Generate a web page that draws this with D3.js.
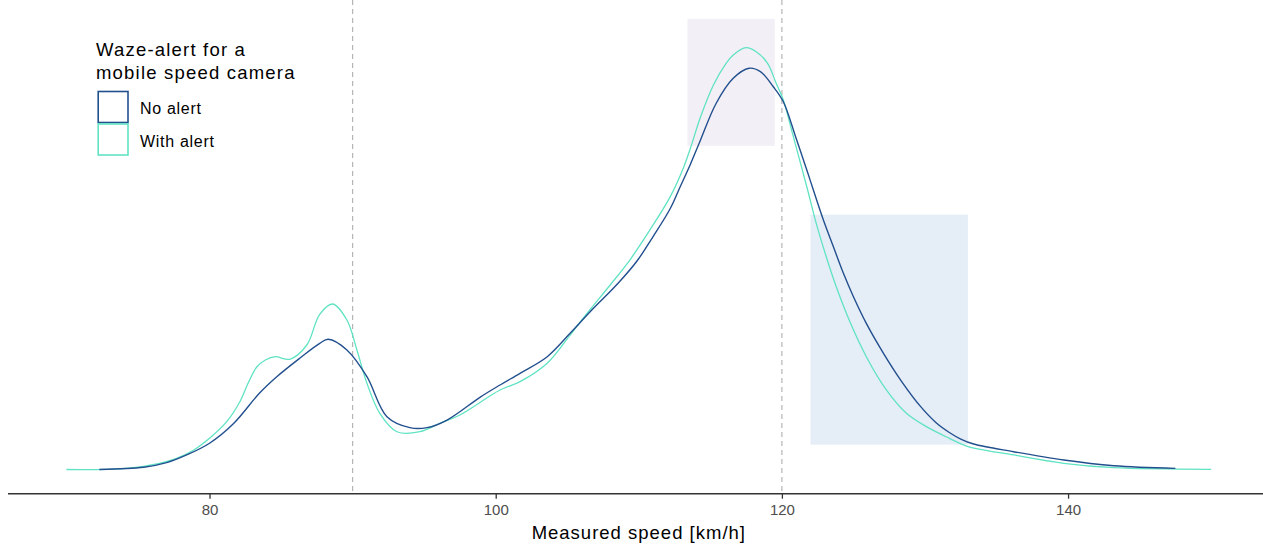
<!DOCTYPE html>
<html>
<head>
<meta charset="utf-8">
<script src="https://cdn.jsdelivr.net/npm/d3@7"></script>
<style>
  html, body { margin: 0; padding: 0; background: #ffffff; }
  svg { display: block; }
  text { font-family: "Liberation Sans", Arial, sans-serif; }
</style>
</head>
<body>
<svg id="chart" width="1263" height="548"></svg>
<script>
// ---------------- data ----------------
const speedWithAlert = [70.0, 74.2, 76.5, 77.7, 78.9, 80.0, 81.2, 82.1, 82.7, 83.3, 83.9, 84.6, 85.6, 86.8, 87.7, 88.6, 89.6, 90.3, 91.0, 91.9, 93.1, 94.7, 96.1, 97.5, 100.3, 101.7, 103.6, 105.2, 106.6, 108.0, 109.4, 110.8, 112.2, 113.1, 113.6, 114.3, 115.2, 116.1, 116.6, 117.5, 118.2, 119.0, 119.6, 120.1, 120.8, 121.8, 122.4, 123.1, 123.8, 124.8, 125.9, 127.3, 128.7, 130.1, 131.7, 132.9, 136.2, 139.7, 143.2, 150.0];
const densityWithAlert = [0, 0.00014, 0.00075, 0.00135, 0.00235, 0.00376, 0.00576, 0.00810, 0.01042, 0.01235, 0.01319, 0.01359, 0.01328, 0.01500, 0.01870, 0.01994, 0.01801, 0.01440, 0.01039, 0.00677, 0.00455, 0.00455, 0.00557, 0.00657, 0.00958, 0.01058, 0.01280, 0.01620, 0.01928, 0.02223, 0.02530, 0.02892, 0.03287, 0.03627, 0.03867, 0.04241, 0.04627, 0.04892, 0.04994, 0.05082, 0.05034, 0.04894, 0.04653, 0.04452, 0.04010, 0.03367, 0.02966, 0.02564, 0.02202, 0.01761, 0.01359, 0.00958, 0.00677, 0.00516, 0.00376, 0.00283, 0.00175, 0.00075, 0.00022, 0.00002];

const speedNoAlert = [72.3, 75.4, 77.0, 78.4, 80.0, 81.7, 83.5, 84.7, 86.3, 87.7, 88.3, 89.6, 91.0, 92.4, 94.0, 95.2, 96.6, 98.9, 100.3, 101.7, 103.6, 105.2, 106.6, 108.6, 109.9, 111.0, 112.2, 112.9, 113.6, 114.3, 115.4, 116.6, 117.7, 118.5, 119.4, 120.1, 121.0, 121.8, 122.2, 122.9, 123.6, 124.3, 125.0, 125.9, 127.1, 128.3, 129.7, 130.8, 131.7, 132.5, 133.4, 136.2, 139.7, 143.2, 147.5];
const densityNoAlert = [0, 0.00027, 0.00082, 0.00175, 0.00316, 0.00557, 0.00922, 0.01118, 0.01340, 0.01520, 0.01569, 0.01440, 0.01118, 0.00636, 0.00504, 0.00504, 0.00596, 0.00870, 0.01018, 0.01159, 0.01359, 0.01641, 0.01900, 0.02253, 0.02518, 0.02807, 0.03145, 0.03410, 0.03675, 0.03964, 0.04410, 0.04713, 0.04834, 0.04793, 0.04612, 0.04431, 0.03988, 0.03578, 0.03367, 0.03006, 0.02684, 0.02364, 0.02082, 0.01761, 0.01400, 0.01078, 0.00757, 0.00560, 0.00446, 0.00367, 0.00307, 0.00214, 0.00114, 0.00046, 0.00014];

// highlighted ranges: [xmin, xmax, ymin, ymax]
const highlightPeak = [113.4, 119.5, 0.0390, 0.0543];
const highlightTail = [122.0, 133.0, 0.0030, 0.0307];

const speedLimits = [90, 120];
const xTicks = [80, 100, 120, 140];
const seriesNames = ["No alert", "With alert"];
const legendTitle = ["Waze-alert for a", "mobile speed camera"];
const xTitle = "Measured speed [km/h]";

// ---------------- drawing ----------------
const svg = d3.select("#chart");
const colNo = "#224f8e";
const colWith = "#5fe3c3";

const x = d3.scaleLinear().domain([66, 154]).range([9.2, 1268.4]);
const y = d3.scaleLinear().domain([0, 0.05]).range([469.5, 54.5]);
const axisY = 493.7;

// highlight rectangles
function rect(r, fill) {
  svg.append("rect")
    .attr("x", x(r[0]))
    .attr("y", y(r[3]))
    .attr("width", x(r[1]) - x(r[0]))
    .attr("height", y(r[2]) - y(r[3]))
    .attr("fill", fill);
}
rect(highlightPeak, "#f3eff6");
rect(highlightTail, "#e5edf6");

// dashed reference lines
svg.selectAll("line.ref").data(speedLimits).enter().append("line")
  .attr("class", "ref")
  .attr("x1", d => x(d)).attr("x2", d => x(d))
  .attr("y1", 0).attr("y2", axisY)
  .attr("stroke", "#b5b5b5")
  .attr("stroke-width", 1.2)
  .attr("stroke-dasharray", "5,4");

// density lines
const line = d3.line()
  .x(d => x(d[0]))
  .y(d => y(Math.max(0, d[1])))
  .curve(d3.curveCatmullRom.alpha(0.5));

svg.append("path")
  .datum(d3.zip(speedWithAlert, densityWithAlert))
  .attr("d", line)
  .attr("fill", "none")
  .attr("stroke", colWith)
  .attr("stroke-width", 1.3);

svg.append("path")
  .datum(d3.zip(speedNoAlert, densityNoAlert))
  .attr("d", line)
  .attr("fill", "none")
  .attr("stroke", colNo)
  .attr("stroke-width", 1.4);

// x axis
const axis = d3.axisBottom(x).tickValues(xTicks).tickSize(5).tickPadding(6).tickSizeOuter(0);
const gAxis = svg.append("g").attr("transform", `translate(0,${axisY})`).call(axis);
gAxis.select(".domain").attr("stroke", "#333333").attr("stroke-width", 1.6)
  .attr("d", `M8,0H1263`);
gAxis.selectAll(".tick line").attr("stroke", "#333333").attr("stroke-width", 1.3);
gAxis.selectAll(".tick text")
  .attr("fill", "#4d4d4d")
  .style("font-size", "15px")
  .style("font-family", "'Liberation Sans', Arial, sans-serif");

// x-axis title
svg.append("text")
  .attr("x", (x.range()[0] + x.range()[1]) / 2)
  .attr("y", 539.3)
  .attr("text-anchor", "middle")
  .attr("fill", "#000000")
  .style("font-size", "18.5px")
  .style("letter-spacing", "1px")
  .text(xTitle);

// legend
const lg = svg.append("g");
lg.selectAll("text.title").data(legendTitle).enter().append("text")
  .attr("class", "title")
  .attr("x", 96)
  .attr("y", (d, i) => 55.5 + i * 23.2)
  .attr("fill", "#000000")
  .style("font-size", "18.5px")
  .style("letter-spacing", "1.2px")
  .text(d => d);

const keyColors = [colNo, colWith];
seriesNames.forEach((name, i) => {
  const top = 91.5 + i * 32.5;
  lg.append("rect")
    .attr("x", 98.2).attr("y", top)
    .attr("width", 29.8).attr("height", 31)
    .attr("fill", "#ffffff")
    .attr("stroke", keyColors[i])
    .attr("stroke-width", 1.6);
  lg.append("text")
    .attr("x", 140)
    .attr("y", top + 22.8)
    .attr("fill", "#000000")
    .style("font-size", "16px")
    .style("letter-spacing", "0.7px")
    .text(name);
});
</script>
</body>
</html>
